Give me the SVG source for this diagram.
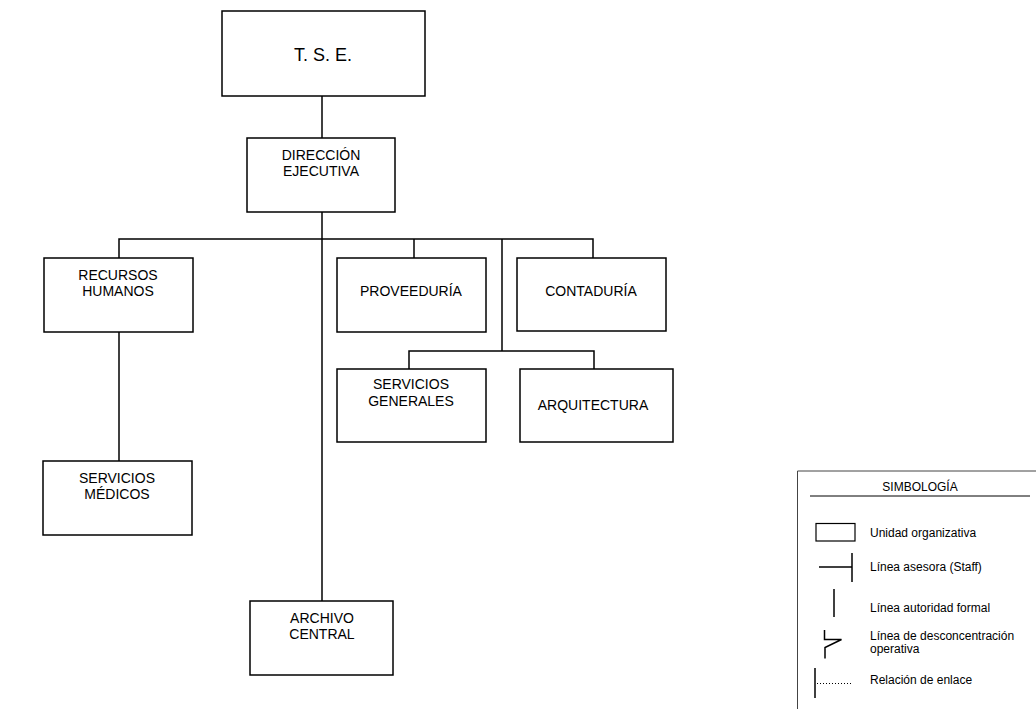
<svg xmlns="http://www.w3.org/2000/svg" width="1036" height="709" viewBox="0 0 1036 709">
<style>
.box{fill:#fff;stroke:#000;stroke-width:1.5}
.ln{fill:none;stroke:#000;stroke-width:1.5}
.t{font-family:"Liberation Sans",Arial,sans-serif;font-size:14px;fill:#000;text-anchor:middle}
.lt{font-family:"Liberation Sans",Arial,sans-serif;font-size:12px;fill:#000}
</style>
<rect width="1036" height="709" fill="#fff"/>
<g id="connectors">
<line class="ln" x1="322" y1="96" x2="322" y2="138"/>
<line class="ln" x1="322" y1="212" x2="322" y2="601"/>
<polyline class="ln" points="119,258 119,239 593,239 593,258"/>
<line class="ln" x1="414" y1="239" x2="414" y2="258"/>
<line class="ln" x1="502" y1="239" x2="502" y2="351"/>
<polyline class="ln" points="409,369 409,351 594,351 594,369"/>
<line class="ln" x1="119" y1="332" x2="119" y2="461"/>
</g>
<g id="tse">
<rect class="box" x="222" y="11" width="203" height="85"/>
<text class="t" x="323" y="61" style="font-size:18px">T. S. E.</text>
</g>
<g id="direccion">
<rect class="box" x="247" y="138" width="148" height="74"/>
<text class="t" x="321" y="160">DIRECCIÓN</text>
<text class="t" x="321" y="176">EJECUTIVA</text>
</g>
<g id="rrhh">
<rect class="box" x="44" y="258" width="149" height="74"/>
<text class="t" x="118" y="280">RECURSOS</text>
<text class="t" x="118" y="296">HUMANOS</text>
</g>
<g id="proveeduria">
<rect class="box" x="337" y="258" width="149" height="74"/>
<text class="t" x="411" y="296">PROVEEDURÍA</text>
</g>
<g id="contaduria">
<rect class="box" x="517" y="258" width="149" height="73"/>
<text class="t" x="591" y="296">CONTADURÍA</text>
</g>
<g id="servicios-generales">
<rect class="box" x="337" y="369" width="149" height="73"/>
<text class="t" x="411" y="389">SERVICIOS</text>
<text class="t" x="411" y="406">GENERALES</text>
</g>
<g id="arquitectura">
<rect class="box" x="520" y="369" width="153" height="73"/>
<text class="t" x="593" y="410">ARQUITECTURA</text>
</g>
<g id="servicios-medicos">
<rect class="box" x="43" y="461" width="149" height="74"/>
<text class="t" x="117" y="483">SERVICIOS</text>
<text class="t" x="117" y="499">MÉDICOS</text>
</g>
<g id="archivo-central">
<rect class="box" x="250" y="601" width="143" height="74"/>
<text class="t" x="322" y="623">ARCHIVO</text>
<text class="t" x="322" y="639">CENTRAL</text>
</g>
<g id="legend">
<polyline points="797.5,709 797.5,471 1036,471" fill="none" stroke="#444" stroke-width="1"/>
<text class="lt" x="920" y="491" text-anchor="middle">SIMBOLOGÍA</text>
<line x1="810" y1="496" x2="1030" y2="496" stroke="#000" stroke-width="1"/>
<rect x="816" y="523.5" width="39" height="17.5" fill="#fff" stroke="#000" stroke-width="1.2"/>
<text class="lt" x="870" y="537">Unidad organizativa</text>
<line class="ln" x1="819" y1="567" x2="852" y2="567"/>
<line class="ln" x1="852" y1="553" x2="852" y2="582"/>
<text class="lt" x="870" y="571">Línea asesora (Staff)</text>
<line class="ln" x1="834" y1="589" x2="834" y2="617"/>
<text class="lt" x="870" y="612">Línea autoridad formal</text>
<polyline class="ln" points="824.5,630 824.5,639.5 841.5,639.5 825,647.5 825,658.5"/>
<text class="lt" x="870" y="640">Línea de desconcentración</text>
<text class="lt" x="870" y="653">operativa</text>
<line class="ln" x1="815" y1="668" x2="815" y2="698"/>
<line x1="817" y1="683.5" x2="851" y2="683.5" stroke="#000" stroke-width="1" stroke-dasharray="1,2"/>
<text class="lt" x="870" y="684">Relación de enlace</text>
</g>
</svg>
